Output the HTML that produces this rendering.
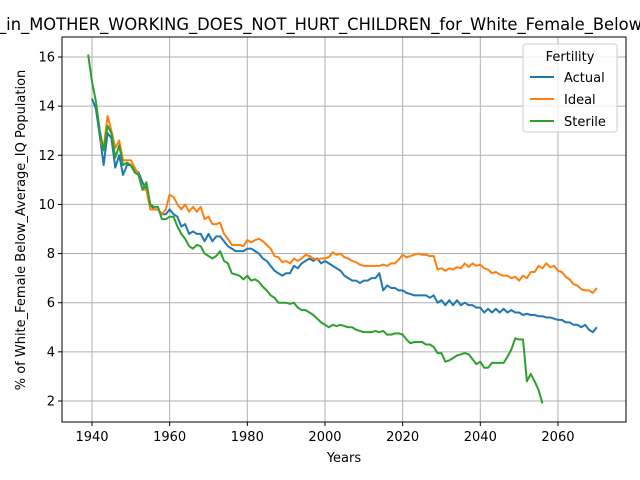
<!DOCTYPE html>
<html><head><meta charset="utf-8"><style>body{margin:0;background:#fff}svg{display:block;font-family:"DejaVu Sans","Liberation Sans",sans-serif}</style></head>
<body>
<svg id="chart" width="640" height="480" xmlns="http://www.w3.org/2000/svg">
<text x="-2" y="30" font-size="16.5" textLength="644" lengthAdjust="spacingAndGlyphs">_in_MOTHER_WORKING_DOES_NOT_HURT_CHILDREN_for_White_Female_Below</text>
<g id="grid"></g><g id="axes"></g><g id="series"></g>
<rect x="62" y="37" width="564" height="385" fill="none" stroke="#000" stroke-width="1"/>
<text x="344" y="462" font-size="13" text-anchor="middle">Years</text>
<text transform="translate(25,230) rotate(-90)" font-size="13" text-anchor="middle">% of White_Female Below_Average_IQ Population</text>
<g>
<rect x="523" y="44" width="94" height="88" rx="3" fill="#fff" fill-opacity="0.8" stroke="#ccc"/>
<text x="570" y="61" font-size="13" text-anchor="middle">Fertility</text>
<g><line x1="530" x2="554" y1="77" y2="77" stroke="#1f77b4" stroke-width="2"/><text x="564" y="82" font-size="13">Actual</text></g>
<g><line x1="530" x2="554" y1="99" y2="99" stroke="#ff7f0e" stroke-width="2"/><text x="564" y="104" font-size="13">Ideal</text></g>
<g><line x1="530" x2="554" y1="121" y2="121" stroke="#2ca02c" stroke-width="2"/><text x="564" y="126" font-size="13">Sterile</text></g>
</g>
</svg>
<script>
const xTicks=[1940,1960,1980,2000,2020,2040,2060];
const yTicks=[2,4,6,8,10,12,14,16];
const actualStart=1940;
const actual=[14.3,13.9,12.8,11.6,12.9,12.7,11.5,12.0,11.2,11.6,11.6,11.4,11.3,10.9,10.6,10.0,9.8,9.8,9.6,9.6,9.8,9.6,9.5,9.1,9.2,8.8,8.9,8.8,8.8,8.5,8.8,8.5,8.7,8.7,8.5,8.3,8.2,8.1,8.1,8.1,8.2,8.2,8.1,8.0,7.8,7.7,7.5,7.3,7.2,7.1,7.2,7.2,7.5,7.4,7.6,7.7,7.8,7.7,7.8,7.6,7.7,7.6,7.5,7.4,7.3,7.1,7.0,6.9,6.9,6.8,6.9,6.9,7.0,7.0,7.2,6.5,6.7,6.6,6.6,6.5,6.5,6.4,6.35,6.3,6.3,6.3,6.3,6.2,6.3,6.0,6.1,5.9,6.1,5.9,6.1,5.9,6.0,5.9,5.9,5.8,5.8,5.6,5.75,5.6,5.75,5.6,5.75,5.6,5.7,5.6,5.6,5.5,5.55,5.5,5.5,5.45,5.45,5.4,5.4,5.35,5.3,5.3,5.2,5.2,5.1,5.1,5.0,5.1,4.9,4.8,5.0];
const idealStart=1942;
const ideal=[12.6,12.3,13.6,13.0,12.3,12.6,11.8,11.8,11.8,11.5,11.2,10.6,10.6,9.8,9.8,9.8,9.6,9.8,10.4,10.3,10.0,9.8,10.0,9.7,9.9,9.7,9.9,9.4,9.5,9.2,9.2,9.25,8.8,8.6,8.35,8.35,8.35,8.3,8.55,8.45,8.55,8.6,8.5,8.35,8.2,7.9,7.85,7.65,7.7,7.6,7.8,7.7,7.8,7.95,7.9,7.8,7.75,7.8,7.8,7.85,8.05,7.95,8.0,7.85,7.8,7.7,7.65,7.55,7.5,7.5,7.5,7.5,7.5,7.55,7.5,7.6,7.6,7.75,7.95,7.85,7.9,7.95,8.0,7.95,7.95,7.9,7.9,7.35,7.4,7.3,7.4,7.35,7.45,7.4,7.6,7.45,7.6,7.5,7.55,7.4,7.35,7.2,7.25,7.15,7.1,7.1,7.0,7.05,6.9,7.1,7.0,7.25,7.25,7.5,7.4,7.6,7.45,7.5,7.3,7.25,7.05,6.95,6.75,6.7,6.55,6.5,6.5,6.4,6.6];
const sterileStart=1939;
const sterile=[16.1,15.0,14.2,13.0,12.2,13.2,12.9,11.9,12.4,11.6,11.7,11.6,11.3,11.2,10.6,10.9,10.0,9.9,9.9,9.4,9.4,9.5,9.5,9.1,8.8,8.6,8.3,8.2,8.35,8.3,8.0,7.9,7.8,7.9,8.1,7.7,7.6,7.2,7.15,7.1,6.95,7.1,6.9,6.95,6.85,6.65,6.5,6.3,6.2,6.0,6.0,6.0,5.95,6.0,5.8,5.7,5.7,5.6,5.5,5.35,5.2,5.1,5.0,5.1,5.05,5.1,5.05,5.0,5.0,4.9,4.85,4.8,4.8,4.8,4.85,4.8,4.85,4.7,4.7,4.75,4.75,4.7,4.5,4.35,4.4,4.4,4.4,4.3,4.3,4.2,3.95,3.95,3.6,3.65,3.75,3.85,3.9,3.95,3.9,3.7,3.5,3.6,3.35,3.35,3.55,3.55,3.55,3.55,3.8,4.1,4.55,4.5,4.5,2.8,3.1,2.8,2.45,1.9];
const NS='http://www.w3.org/2000/svg';
const X=yr=>92+(yr-1940)*3.883;
const Y=v=>57+(16-v)*24.57;
function mk(tag,attrs,parent){const e=document.createElementNS(NS,tag);for(const k in attrs)e.setAttribute(k,attrs[k]);document.getElementById(parent).appendChild(e);return e;}
xTicks.forEach(t=>{
 const g=mk('line',{x1:X(t),x2:X(t),y1:37,y2:422,stroke:'#b0b0b0','stroke-width':1},'grid');
 
 
 mk('line',{x1:X(t),x2:X(t),y1:422,y2:426,stroke:'#000'},'axes');
 const l=mk('text',{x:X(t),y:441,'font-size':13,'text-anchor':'middle'},'axes');
 l.textContent=t;
 
 
});
yTicks.forEach(t=>{
 const g=mk('line',{x1:62,x2:626,y1:Y(t),y2:Y(t),stroke:'#b0b0b0','stroke-width':1},'grid');
 
 
 mk('line',{x1:58,x2:62,y1:Y(t),y2:Y(t),stroke:'#000'},'axes');
 const l=mk('text',{x:55,y:Y(t)+4.5,'font-size':13,'text-anchor':'end'},'axes');
 l.textContent=t;
 
 
});
function line(vals,start,color,name){
 const d=vals.map((v,i)=>(i?'L':'M')+X(start+i).toFixed(2)+','+Y(v).toFixed(2)).join('');
 const p=mk('path',{d:d,fill:'none',stroke:color,'stroke-width':2,'stroke-linejoin':'round'},'series');
 
 
}
line(actual,actualStart,'#1f77b4','actual-line');
line(ideal,idealStart,'#ff7f0e','ideal-line');
line(sterile,sterileStart,'#2ca02c','sterile-line');
</script>
</body></html>
